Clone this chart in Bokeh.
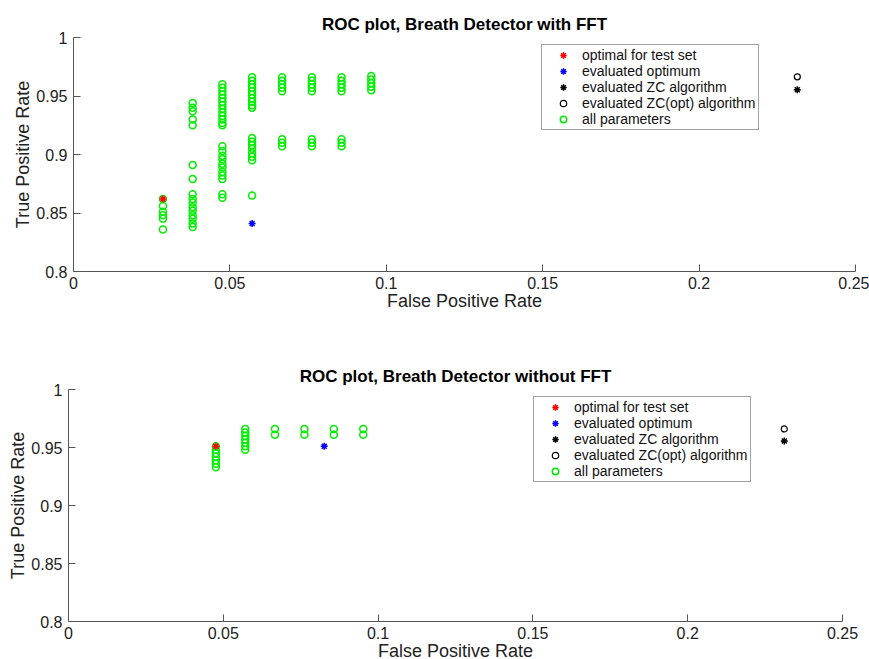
from bokeh.plotting import figure
from bokeh.layouts import column, row
from bokeh.models import Range1d, FixedTicker, Legend, LegendItem
from bokeh.embed import file_html
from bokeh.resources import INLINE

# ---------------- data ----------------
x_ticks = [0, 0.05, 0.1, 0.15, 0.2, 0.25]
x_tick_labels = ["0", "0.05", "0.1", "0.15", "0.2", "0.25"]
y_ticks = [0.8, 0.85, 0.9, 0.95, 1.0]
y_tick_labels = ["0.8", "0.85", "0.9", "0.95", "1"]

legend_labels = ["optimal for test set", "evaluated optimum", "evaluated ZC algorithm",
                 "evaluated ZC(opt) algorithm", "all parameters"]

titles = ["ROC plot, Breath Detector with FFT", "ROC plot, Breath Detector without FFT"]
x_label = "False Positive Rate"
y_label = "True Positive Rate"

# with FFT: all parameter settings, grouped by false positive rate
fft_col_fpr = [0.0286, 0.0381, 0.0476, 0.0571, 0.0667, 0.0762, 0.0857, 0.0952]
fft_col_tpr = [
    [0.862, 0.856, 0.851, 0.848, 0.845, 0.836],
    [0.944, 0.940, 0.937, 0.930, 0.925, 0.891, 0.879, 0.866, 0.862, 0.859, 0.855,
     0.852, 0.848, 0.845, 0.841, 0.838],
    [0.960, 0.957, 0.954, 0.951, 0.948, 0.945, 0.942, 0.939, 0.936, 0.933, 0.930,
     0.927, 0.925, 0.907, 0.903, 0.899, 0.896, 0.892, 0.889, 0.885, 0.882, 0.879,
     0.866, 0.863],
    [0.966, 0.963, 0.960, 0.957, 0.954, 0.951, 0.948, 0.945, 0.942, 0.940, 0.914,
     0.911, 0.908, 0.905, 0.901, 0.898, 0.895, 0.865],
    [0.966, 0.963, 0.960, 0.957, 0.954, 0.913, 0.910, 0.907],
    [0.966, 0.963, 0.960, 0.957, 0.954, 0.913, 0.910, 0.907],
    [0.966, 0.963, 0.960, 0.957, 0.954, 0.913, 0.910, 0.907],
    [0.967, 0.964, 0.961, 0.958, 0.955],
]
fft_opt_test = (0.0286, 0.862)
fft_eval_opt = (0.0571, 0.841)
fft_zc = (0.2314, 0.9553)
fft_zc_opt = (0.2314, 0.9664)

# without FFT
nofft_col_fpr = [0.0476, 0.0571, 0.0667, 0.0762, 0.0857, 0.0952]
nofft_col_tpr = [
    [0.951, 0.948, 0.945, 0.942, 0.939, 0.936, 0.933],
    [0.966, 0.963, 0.960, 0.957, 0.954, 0.951, 0.948],
    [0.966, 0.961],
    [0.966, 0.961],
    [0.966, 0.961],
    [0.966, 0.961],
]
nofft_opt_test = (0.0476, 0.951)
nofft_eval_opt = (0.0826, 0.951)
nofft_zc = (0.2312, 0.9557)
nofft_zc_opt = (0.2312, 0.9660)

# ---------------- styling ----------------
FONT = "Liberation Sans"
GREEN = "#00ee00"


def flatten(col_fpr, col_tpr):
    xs, ys = [], []
    for fx, tps in zip(col_fpr, col_tpr):
        for t in tps:
            xs.append(fx)
            ys.append(t)
    return xs, ys


def make_plot(title, col_fpr, col_tpr, opt_test, eval_opt, zc, zc_opt,
              frame, borders, legend_loc):
    fw, fh = frame
    left, right, top, bottom = borders
    p = figure(frame_width=fw, frame_height=fh,
               x_range=Range1d(0, 0.25), y_range=Range1d(0.8, 1.0),
               output_backend="svg", toolbar_location=None,
               min_border_left=left, min_border_right=right,
               min_border_top=top, min_border_bottom=bottom,
               title=title)
    p.title.align = "center"
    p.title.text_font = FONT
    p.title.text_font_size = "17px"
    p.title.text_font_style = "bold"
    p.title.text_color = "black"
    p.title.standoff = 7

    p.outline_line_color = None
    p.xgrid.grid_line_color = None
    p.ygrid.grid_line_color = None
    p.background_fill_color = "white"
    p.border_fill_color = "white"

    for ax, ticks, labels in ((p.xaxis[0], x_ticks, x_tick_labels),
                              (p.yaxis[0], y_ticks, y_tick_labels)):
        ax.ticker = FixedTicker(ticks=ticks)
        ax.major_label_overrides = {t: l for t, l in zip(ticks, labels)}
        ax.major_tick_in = 7
        ax.major_tick_out = 0
        ax.minor_tick_line_color = None
        ax.axis_line_color = "#555555"
        ax.major_tick_line_color = "#555555"
        ax.major_label_text_font = FONT
        ax.major_label_text_font_size = "16px"
        ax.major_label_text_color = "#222222"
        ax.axis_label_text_font = FONT
        ax.axis_label_text_font_size = "18px"
        ax.axis_label_text_font_style = "normal"
        ax.axis_label_text_color = "#222222"
    p.xaxis[0].axis_label = x_label
    p.yaxis[0].axis_label = y_label
    p.xaxis[0].major_label_standoff = 5
    p.xaxis[0].axis_label_standoff = -1
    p.yaxis[0].major_label_standoff = 6
    p.yaxis[0].axis_label_standoff = 0

    xs, ys = flatten(col_fpr, col_tpr)
    r_all = p.scatter(xs, ys, marker="circle", size=7, line_color=GREEN, line_width=1.5,
                      fill_color=None)
    r_opt = p.scatter([opt_test[0]], [opt_test[1]], marker="asterisk", size=7,
                      line_color="#ff0000", line_width=1.5)
    r_eval = p.scatter([eval_opt[0]], [eval_opt[1]], marker="asterisk", size=7,
                       line_color="#0000ff", line_width=1.5)
    r_zc = p.scatter([zc[0]], [zc[1]], marker="asterisk", size=7,
                     line_color="black", line_width=1.5)
    r_zco = p.scatter([zc_opt[0]], [zc_opt[1]], marker="circle", size=6,
                      line_color="black", line_width=1.2, fill_color=None)

    items = [LegendItem(label=lab, renderers=[r])
             for lab, r in zip(legend_labels, [r_opt, r_eval, r_zc, r_zco, r_all])]
    legend = Legend(items=items, location=legend_loc, padding=2, spacing=0,
                    glyph_width=38, glyph_height=16, label_height=16, label_standoff=0,
                    label_text_font=FONT, label_text_font_size="14px",
                    label_text_color="#111111",
                    border_line_color="#444444", border_line_width=1,
                    background_fill_color="white", background_fill_alpha=1.0,
                    margin=0)
    p.add_layout(legend)
    return p


p1 = make_plot(titles[0], fft_col_fpr, fft_col_tpr, fft_opt_test, fft_eval_opt,
               fft_zc, fft_zc_opt, (782, 234), (73, 14, 37, 59), (468, 141))
p2 = make_plot(titles[1], nofft_col_fpr, nofft_col_tpr, nofft_opt_test, nofft_eval_opt,
               nofft_zc, nofft_zc_opt, (774, 232), (68, 27, 59, 38), (465, 139))

layout = column(row(p1, spacing=0), row(p2, spacing=0), spacing=0)
open("out.html", "w").write(file_html(layout, INLINE))
